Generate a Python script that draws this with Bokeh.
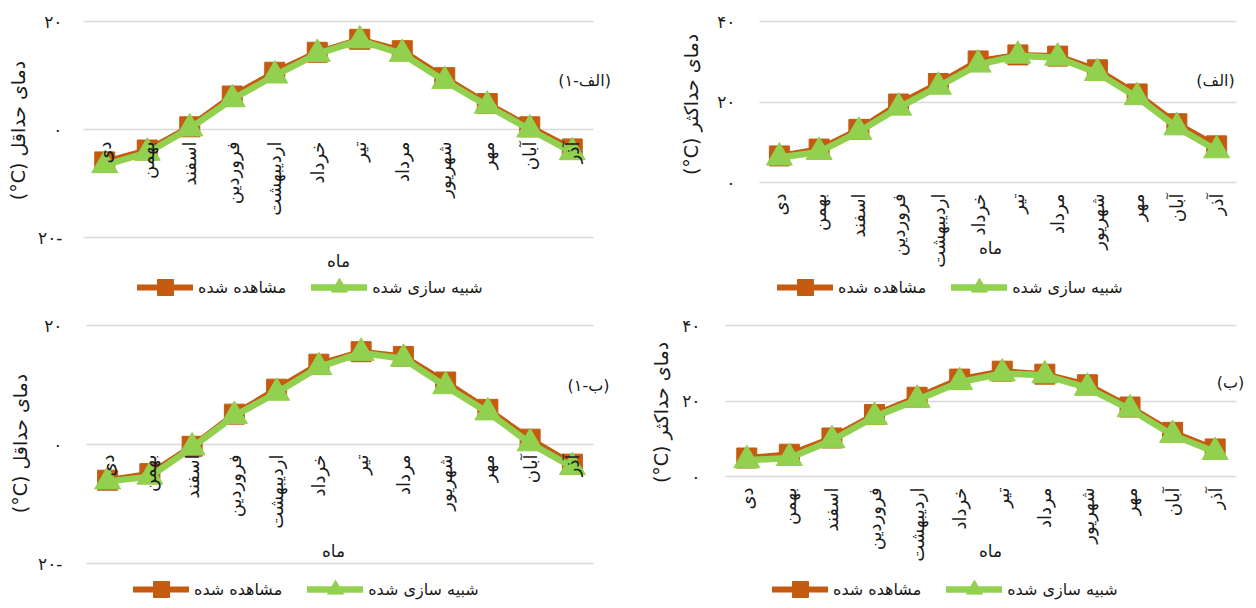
import math
from bokeh.plotting import figure
from bokeh.models import (ColumnDataSource, Range1d, FixedTicker, Grid,
                          Legend, LegendItem, Label)
from bokeh.layouts import column, row
from bokeh.embed import file_html
from bokeh.resources import INLINE
from bokeh.core.properties import value

FONT = "DejaVu Sans"
ORANGE = "#C55A11"
GREEN = "#92D050"
GRID = "#D9D9D9"
TEXT = "#1a1a1a"

# ---------------- data ----------------
months = ["دی", "بهمن", "اسفند", "فروردین", "اردیبهشت", "خرداد",
          "تیر", "مرداد", "شهریور", "مهر", "آبان", "آذر"]
month_idx = list(range(len(months)))

# (الف-۱) minimum temperature
obs_a1 = [-6.0, -3.8, 0.5, 6.2, 10.6, 14.3, 16.7, 14.6, 9.6, 4.8, 0.5, -3.6]
sim_a1 = [-6.6, -4.3, 0.2, 5.6, 10.0, 14.0, 16.5, 14.0, 9.0, 4.4, 0.0, -4.2]
# (الف) maximum temperature
obs_a = [6.6, 8.3, 13.2, 19.5, 24.6, 30.2, 31.7, 31.4, 28.0, 22.0, 14.6, 9.1]
sim_a = [6.2, 7.6, 12.6, 18.6, 23.8, 29.3, 31.5, 31.0, 27.2, 21.2, 13.7, 8.0]
# (ب-۱) minimum temperature
obs_b1 = [-6.0, -4.9, -0.3, 5.1, 9.3, 13.5, 15.6, 14.8, 10.5, 5.9, 0.9, -3.3]
sim_b1 = [-6.2, -5.4, -0.5, 4.8, 8.7, 13.0, 15.4, 14.4, 9.8, 5.4, 0.2, -3.8]
# (ب) maximum temperature
obs_b = [4.9, 5.9, 10.2, 16.4, 21.0, 25.8, 27.9, 27.1, 24.3, 18.4, 11.7, 7.3]
sim_b = [4.3, 4.9, 9.6, 15.8, 20.3, 25.0, 27.3, 26.8, 23.5, 17.8, 11.0, 6.5]

min_ticks = [-20, 0, 20]
max_ticks = [0, 20, 40]
tick_text = {-20: "۲۰-", 0: "۰", 20: "۲۰", 40: "۴۰"}

legend_labels = ["مشاهده شده", "شبیه سازی شده"]
x_title = "ماه"
y_title_min = "(°C) دمای حداقل"
y_title_max = "(°C) دمای حداکثر"
tag_a1 = "(الف-۱)"
tag_a = "(الف)"
tag_b1 = "(ب-۱)"
tag_b = "(ب)"


def panel(obs, sim, ticks, ytitle, tag, fig_box, cat_left, cat_w, zero_px,
          ppu, tick_right, title_c, lab_off, xt_c, tag_c, leg_pos):
    X0, Y0, X1, Y1 = fig_box
    n = len(months)

    def dx(px):
        return (px - cat_left) / cat_w - 0.5

    def dy(py):
        return (zero_px - py) / ppu

    p = figure(width=X1 - X0, height=Y1 - Y0,
               x_range=Range1d(dx(X0), dx(X1)), y_range=Range1d(dy(Y1), dy(Y0)),
               x_axis_type=None, y_axis_type=None, output_backend="svg",
               toolbar_location=None, min_border=0)
    p.outline_line_color = None
    p.background_fill_color = None
    p.border_fill_color = None

    # horizontal gridlines limited to the category area
    if "cross_bounds" in Grid.properties():
        g = Grid(dimension=1, ticker=FixedTicker(ticks=ticks),
                 grid_line_color=GRID, grid_line_width=1.5,
                 cross_bounds=(-0.5, n - 0.5))
        p.add_layout(g)
    else:
        gsrc = ColumnDataSource(dict(t=ticks))
        p.segment(x0=-0.5, x1=n - 0.5, y0="t", y1="t", source=gsrc,
                  line_color=GRID, line_width=1.5)

    # y tick labels
    tsrc = ColumnDataSource(dict(t=ticks, lab=[tick_text[t] for t in ticks]))
    p.text(x=dx(tick_right), y="t", text="lab", source=tsrc,
           text_align="right", text_baseline="middle",
           text_font=value(FONT), text_font_size="17px", text_color=TEXT)

    # y axis title
    p.add_layout(Label(x=dx(title_c[0]), y=dy(title_c[1]), text=ytitle,
                       angle=math.pi / 2, text_align="center",
                       text_baseline="middle", text_font=FONT,
                       text_font_size="19px", text_color=TEXT))

    src = ColumnDataSource(dict(m=month_idx, name=months, obs=obs, sim=sim,
                                zero=[0] * n))
    r1 = p.line("m", "obs", source=src, line_color=ORANGE, line_width=6,
                line_join="round", line_cap="round")
    r2 = p.scatter("m", "obs", source=src, marker="square", size=20,
                   fill_color=ORANGE, line_color=ORANGE)
    r3 = p.line("m", "sim", source=src, line_color=GREEN, line_width=6.5,
                line_join="round", line_cap="round")
    r4 = p.scatter("m", "sim", source=src, marker="triangle", size=26,
                   fill_color=GREEN, line_color=GREEN)

    # month (category) labels hanging from the zero line
    p.text("m", "zero", text="name", source=src, angle=math.pi / 2,
           text_align="right", text_baseline="middle", y_offset=lab_off,
           text_font=value(FONT), text_font_size="18px", text_color=TEXT)

    p.add_layout(Label(x=dx(xt_c[0]), y=dy(xt_c[1]), text=x_title,
                       text_align="center", text_baseline="middle",
                       text_font=FONT, text_font_size="17px",
                       text_color=TEXT))
    p.add_layout(Label(x=dx(tag_c[0]), y=dy(tag_c[1]), text=tag,
                       text_align="center", text_baseline="middle",
                       text_font=FONT, text_font_size="16px",
                       text_color=TEXT))

    gh = 40
    leg = Legend(items=[LegendItem(label=legend_labels[0], renderers=[r1, r2]),
                        LegendItem(label=legend_labels[1], renderers=[r3, r4])],
                 location=(leg_pos[0] - X0, (Y1 - leg_pos[1]) - gh / 2),
                 orientation="horizontal",
                 glyph_width=56, glyph_height=gh, label_standoff=5,
                 spacing=25, padding=0, margin=0,
                 border_line_color=None, background_fill_alpha=0,
                 label_text_font=FONT, label_text_font_size="16px",
                 label_text_color=TEXT)
    p.add_layout(leg)
    return p


p_a1 = panel(obs_a1, sim_a1, min_ticks, y_title_min, tag_a1,
             (0, 0, 628, 300), 83, 42.5, 129, 5.4,
             62, (17, 130), 12, (338, 260), (584, 80), (137, 287))
p_a = panel(obs_a, sim_a, max_ticks, y_title_max, tag_a,
            (628, 0, 1248, 300), 759, 39.75, 182, 4.025,
            735, (690, 104), 11, (990, 247), (1215, 80), (777, 287))
p_b1 = panel(obs_b1, sim_b1, min_ticks, y_title_min, tag_b1,
             (0, 300, 628, 600), 86, 42.25, 444, 5.95,
             62, (19, 443), 10, (333, 550), (588, 385), (133, 589))
p_b = panel(obs_b, sim_b, max_ticks, y_title_max, tag_b,
            (628, 300, 1248, 600), 725, 42.58, 476, 3.775,
            700, (660, 412), 11, (990, 550), (1230, 382), (772, 589))

layout = column(row(p_a1, p_a), row(p_b1, p_b))
open("out.html", "w").write(file_html(layout, INLINE))
